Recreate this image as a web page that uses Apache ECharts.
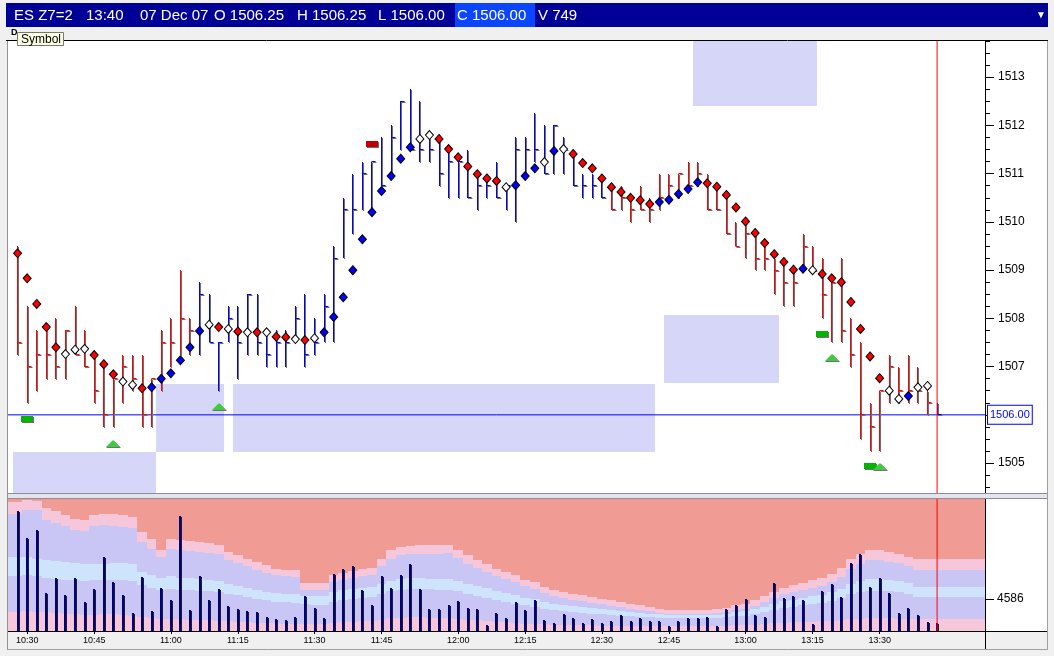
<!DOCTYPE html>
<html><head><meta charset="utf-8">
<script src="https://cdn.jsdelivr.net/npm/echarts@6/dist/echarts.min.js"></script>
<style>html,body{margin:0;padding:0;background:#f0f0f0;overflow:hidden}#c{width:1054px;height:656px}</style>
</head><body><div id="c"></div>
<script>
const high = [1509.5,1508.25,1507.75,1507.75,1508,1507.75,1508.25,1507.75,1507.25,1507,
1506.75,1507.25,1507.25,1507.25,1506.75,1507.75,1508,1509,1508,1508.75,
1508.5,1507.5,1508.25,1508.25,1508.5,1508.5,1507.75,1507.75,1507.75,1508.25,
1508.5,1508,1508.5,1509.5,1510.5,1511,1511.25,1511.25,1511.75,1512,
1512.5,1512.75,1512.5,1511.75,1511.75,1511.5,1511.25,1511.5,1511,1511,
1511.25,1510.75,1511.75,1511.75,1512.25,1512,1512,1511.75,1511.5,1511,
1511,1511,1510.75,1510.75,1510.5,1510.75,1510.5,1511,1511,1511,
1511.25,1511.25,1511,1510.75,1510.5,1510,1510,1509.75,1509.5,1509.25,
1509.25,1509,1509.75,1509.5,1509.25,1508.75,1509.25,1508,1507.5,1506.25,
1506.5,1507.25,1507,1507.25,1507,1506.5,1506.25];
const low = [1507.25,1506.25,1506.5,1506.75,1506.75,1506.75,1507.25,1507,1506.25,1505.75,
1505.75,1506.25,1506.5,1505.75,1505.75,1506.5,1507,1507.25,1507.25,1507.25,
1507.5,1506.5,1507.5,1506.75,1507.25,1507.25,1507,1507,1507,1507.5,
1507,1507.25,1507.5,1507.5,1509.25,1509.75,1510.25,1510.25,1510.75,1511,
1511.5,1511.5,1511.25,1511.25,1510.75,1510.5,1510.5,1510.5,1510.25,1510.5,
1510.5,1510.25,1510,1511,1511.25,1511,1511,1511,1510.75,1510.5,
1510.5,1510.5,1510.25,1510.25,1510,1510.25,1510,1510.25,1510.5,1510.5,
1510.75,1510.75,1510.25,1510.25,1509.75,1509.5,1509.25,1509,1509,1508.5,
1508.25,1508.25,1509,1509,1508,1507.5,1507.5,1507,1505.5,1505.25,
1505.25,1506.25,1506.25,1506.25,1506.25,1506,1506];
const close = [1507.5,1507,1507.25,1507.25,1507,1507.75,1507.25,1507,1506.5,1506,
1506.75,1507,1506.75,1506,1506.75,1507.5,1507.5,1508,1507.75,1508.5,
1507.5,1507.5,1508,1507.5,1508.5,1507.5,1507.25,1507.5,1507.5,1508,
1507.25,1507.5,1508.25,1509.25,1510.25,1510.25,1511,1511.25,1510.75,1511.75,
1512.5,1511.5,1511.5,1511.5,1511,1511.25,1511.25,1510.5,1510.75,1510.75,
1510.5,1510.75,1511.5,1511.5,1511.5,1511,1512,1511.5,1510.75,1510.75,
1510.75,1510.5,1510.25,1510.5,1510.25,1510.25,1510.25,1510.5,1510.75,1511,
1510.75,1511,1510.25,1510.25,1509.75,1509.5,1509.75,1509.25,1509.25,1509,
1508.75,1508.75,1509.5,1509,1508.5,1508.75,1507.75,1507.25,1506,1505.75,
1506.5,1507,1506.5,1506.5,1506.5,1506.25,1506];
const barTrend = ('rrrrrrrrrrrrrrrrrrr' + 'bbbbbbbbbbbbbbbbbbbbbbbbbbbbbbbbbbbbbbbbbbb' +
  'rrrrrrrrrrrrrrrrrrrrrrrrrrrrrrrrrr' + 'b').split('');
const dots = [1509.35,1508.83,1508.30,1507.82,1507.40,1507.26,1507.35,1507.37,1507.24,1507.05,
1506.84,1506.69,1506.62,1506.55,1506.57,1506.75,1506.86,1507.13,1507.40,1507.74,
1507.87,1507.82,1507.78,1507.73,1507.71,1507.71,1507.71,1507.62,1507.61,1507.57,
1507.55,1507.59,1507.71,1508.03,1508.44,1509.00,1509.64,1510.20,1510.64,1510.95,
1511.31,1511.55,1511.72,1511.80,1511.72,1511.51,1511.34,1511.15,1510.99,1510.90,
1510.85,1510.72,1510.76,1510.95,1511.11,1511.24,1511.47,1511.51,1511.41,1511.22,
1511.11,1510.90,1510.72,1510.62,1510.50,1510.45,1510.37,1510.41,1510.46,1510.58,
1510.68,1510.82,1510.80,1510.73,1510.56,1510.30,1510.01,1509.77,1509.56,1509.33,
1509.17,1509.01,1509.03,1509.00,1508.92,1508.83,1508.75,1508.34,1507.78,1507.21,
1506.76,1506.50,1506.33,1506.39,1506.57,1506.60,null];
const dotTrend = ('rrrrr'+'www'+'rrr'+'ww'+'r'+'bbbbbb'+'wrwrwrwrrwrw'+'bbbbbbbbbb'+'ww'+'rrrrrrr'+'w'+'bbb'+'w'+'b'+'w'+
  'rrrrrrrrr'+'bbbbb'+'rrrrrrrrrr'+'b'+'w'+'rrrrrrr'+'ww'+'b'+'ww'+'-').split('');
const volume = [18510,14140,15560,5570,7950,5140,7950,4140,6090,11170,
7200,5140,2290,8110,2600,6250,4350,17720,2760,8160,
4350,6090,3510,2920,2650,2450,1650,1340,1180,1700,
4980,3080,1490,8520,9270,9790,5980,3560,8160,6360,
8310,10060,6090,2920,2920,3560,4190,3080,2920,500,
2290,1540,4030,2760,4350,1180,800,2130,1490,800,
1340,800,1020,1970,1020,1490,1020,1110,230,1020,
1490,1490,1650,230,2920,3560,4560,1970,1650,7090,
4670,5030,4350,540,5820,6890,4830,10220,11740,6410,
7930,5460,2290,3080,1970,860,749];
// volume envelope levels, top to bottom
const volBand1 = [19950,20200,20100,18900,18500,17830,17300,17040,17830,18090,
17990,17830,17570,15190,14130,12380,14130,13870,13760,13600,
13500,13070,12010,11490,10960,10430,9900,9370,9210,9110,
7100,7100,7100,8310,8680,9000,9260,9480,10960,12280,
12810,12970,13070,13070,13070,13180,12380,11490,10690,10160,
9370,8840,8310,7630,7260,6460,6040,5670,5410,5140,
4880,4610,4350,4080,3820,3550,3290,3030,2760,2760,
2760,2760,2760,2920,3190,3550,3820,4350,4980,5670,
6360,6730,7100,7520,7940,8580,9530,10850,11640,12280,
12380,12010,11750,11220,10850,10850,10850];
const volBand2 = [18090,18620,18620,17040,16670,16090,15560,15350,16090,16300,
16190,15980,15770,13600,12540,11220,12540,12280,12170,12010,
11910,11750,10800,10270,9740,9210,8740,8310,8160,8050,
6040,6040,6040,7260,7630,7940,8160,8370,9740,10960,
11490,11640,11750,11750,11750,11800,11060,10160,9420,8900,
8160,7680,7200,6570,6200,5460,5040,4720,4450,4190,
3980,3710,3500,3240,3030,2820,2600,2390,2130,2130,
2130,2130,2130,2290,2500,2820,3030,3500,4030,4670,
5300,5620,5930,6300,6670,7260,8100,9270,10060,10690,
10800,10480,10220,9740,9110,9110,9110];
const volBand3 = [11220,11220,10960,10690,10590,10430,10270,10060,10060,10160,
10270,10270,10060,8840,8310,7940,8160,7940,7840,7730,
7630,7410,6990,6670,6360,6040,5720,5510,5410,5300,
5090,4980,4980,5670,5930,6150,6360,6460,6890,7410,
7730,7840,7840,7780,7730,7680,7410,6990,6570,6250,
5830,5510,5190,4770,4510,4030,3770,3560,3400,3240,
3080,2920,2760,2600,2450,2340,2230,2130,1970,1970,
1970,1970,1970,2070,2230,2450,2600,2920,3290,3710,
4190,4450,4720,4980,5250,5620,6200,6990,7410,7730,
7780,7630,7410,7100,6460,6460,6460];
const volBand4 = [8160,8310,8160,7940,7780,7630,7520,7410,7520,7630,
7630,7520,7410,6730,6360,6040,6200,6040,5930,5830,
5780,5670,5410,5140,4880,4610,4350,4140,4030,3930,
3710,3610,3610,4080,4350,4560,4770,4880,5300,5830,
6040,6150,6150,6090,6040,5990,5780,5410,5040,4720,
4350,4080,3820,3560,3340,2970,2760,2600,2450,2340,
2230,2130,2020,1920,1810,1700,1650,1600,1490,1490,
1490,1490,1490,1550,1650,1810,1920,2180,2450,2760,
3130,3340,3560,3770,3980,4240,4670,5300,5620,5830,
5880,5780,5620,5350,4880,4880,4880];
const volBand5 = [2500,2660,2500,2450,2340,2230,2130,2020,2020,2130,
2130,2020,1920,1700,1550,1390,1440,1390,1280,1230,
1180,1120,1020,960,860,810,750,700,650,650,
540,540,540,750,860,960,1070,1120,1280,1490,
1600,1650,1650,1600,1550,1490,1390,1280,1180,1070,
960,860,750,650,590,540,490,440,440,380,
380,330,330,330,280,280,280,280,220,220,
220,220,220,280,330,380,440,490,590,700,
810,860,910,960,1020,1070,1180,1330,1440,1490,
1490,1490,1440,1390,1440,1440,1440];
const timeLabels = ['10:30','10:45','11:00','11:15','11:30','11:45','12:00','12:15','12:30','12:45','13:00','13:15','13:30'];
const timeLabelBars = [1,8,16,23,31,38,46,53,61,68,76,83,90];
const priceLabels = [1505,1506,1507,1508,1509,1510,1511,1512,1513];
const volumeLabels = [4586];
const zoneFrom = [-0.5,14.5,22.5,67.5,70.5];
const zoneTo = [14.5,21.5,66.5,79.5,83.5];
const zoneTop = [1505.22,1506.64,1506.64,1508.07,1513.75];
const zoneBottom = [1504.38,1505.24,1505.24,1506.67,1512.40];
const buySignalBars = [1,84,89];
const buySignalPrices = [1505.92,1507.67,1504.93];
const arrowBars = [10,21,85,90];
const arrowPrices = [1505.40,1506.17,1507.17,1504.92];
const sellSignalBars = [37];
const sellSignalPrices = [1511.61];
const lastPrice = 1506.00;
const cursorBar = 96;
const header = [['ES Z7=2',14],['13:40',86],['07 Dec 07',140],['O 1506.25',214],['H 1506.25',297],['L 1506.00',378],['C 1506.00',457],['V 749',538]];

const PMIN = 1504.38, PMAX = 1513.75, VMIN = -520, VMAX = 20400;
const FONT = 'Liberation Sans, Arial, sans-serif';
const quarterTicks = [];
for (let p = 1504.5; p <= 1513.75; p += 0.25) quarterTicks.push(p);

const chart = echarts.init(document.getElementById('c'), null, {renderer: 'canvas'});

const barData = high.map((h, i) => [i, h, low[i], close[i]]);
const dotData = dots.map((d, i) => d == null ? null : {value: [i, d], itemStyle: {color: dotTrend[i] === 'r' ? '#ff0000' : dotTrend[i] === 'b' ? '#0000ff' : '#ffffff'}}).filter(Boolean);
const zoneData = zoneFrom.map((f, i) => [f, zoneTo[i], zoneTop[i], zoneBottom[i]]);
const volData = volume.map((v, i) => [i, v]);
const bandData = volBand1.map((v, i) => [i, v, volBand2[i], volBand3[i], volBand4[i], volBand5[i]]);
const BAND_COLORS = ['#f09b94', '#f6c6da', '#c9c6f5', '#cde4fc', '#c9c6f5', '#f6c6da'];

function crisp(v) { return Math.round(v) + 0.5; }

const option = {
  backgroundColor: '#f0f0f0',
  animation: false,
  textStyle: {fontFamily: FONT},
  grid: [
    {left: 8, top: 41, width: 977, height: 452, show: true, backgroundColor: '#ffffff', borderWidth: 0},
    {left: 8, top: 499, width: 977, height: 132, show: true, backgroundColor: '#f09b94', borderWidth: 0}
  ],
  xAxis: [
    {gridIndex: 0, type: 'value', min: -1, max: 101, show: false},
    {gridIndex: 1, type: 'value', min: -1, max: 101, splitLine: {show: false},
     axisLine: {show: true, onZero: false, lineStyle: {color: '#000', width: 1}},
     axisTick: {show: true, customValues: timeLabelBars, length: 3, lineStyle: {color: '#000'}},
     axisLabel: {customValues: timeLabelBars, margin: 5, fontSize: 9, color: '#000', fontFamily: FONT,
       formatter: v => { const k = timeLabelBars.indexOf(Math.round(v)); return k >= 0 ? timeLabels[k] : ''; }}}
  ],
  yAxis: [
    {gridIndex: 0, type: 'value', position: 'right', min: PMIN, max: PMAX, splitLine: {show: false},
     axisLine: {show: true, onZero: false, lineStyle: {color: '#000'}},
     axisTick: {show: true, customValues: priceLabels, length: 9, lineStyle: {color: '#000'}},
     axisLabel: {customValues: priceLabels, margin: 13, fontSize: 12, color: '#000', fontFamily: FONT, formatter: v => String(v)}},
    {gridIndex: 0, type: 'value', position: 'right', min: PMIN, max: PMAX, splitLine: {show: false},
     axisLine: {show: false, onZero: false},
     axisTick: {show: true, customValues: quarterTicks, length: 5, lineStyle: {color: '#000'}},
     axisLabel: {show: false}},
    {gridIndex: 1, type: 'value', position: 'right', min: VMIN, max: VMAX, splitLine: {show: false},
     axisLine: {show: true, onZero: false, lineStyle: {color: '#000'}},
     axisTick: {show: true, customValues: volumeLabels, length: 9, lineStyle: {color: '#000'}},
     axisLabel: {customValues: volumeLabels, margin: 12, fontSize: 12, color: '#000', fontFamily: FONT, formatter: v => String(v)}},
    {gridIndex: 0, type: 'value', position: 'right', min: PMIN, max: PMAX, splitLine: {show: false},
     axisLine: {show: false, onZero: false}, axisTick: {show: false},
     axisLabel: {customValues: [lastPrice], margin: 3, fontSize: 11, color: '#0000ff', fontFamily: FONT,
       backgroundColor: '#ffffff', borderColor: '#0000ff', borderWidth: 1, padding: [4, 2, 3, 2],
       formatter: v => v.toFixed(2)}}
  ],
  series: [
    {type: 'custom', name: 'zones', xAxisIndex: 0, yAxisIndex: 0, z: 1, clip: true, data: zoneData,
     renderItem: (p, api) => {
       const a = api.coord([api.value(0), api.value(2)]), b = api.coord([api.value(1), api.value(3)]);
       return {type: 'rect', shape: {x: Math.round(a[0]), y: Math.round(a[1]), width: Math.round(b[0]) - Math.round(a[0]), height: Math.round(b[1]) - Math.round(a[1])},
         style: {fill: '#d6d6f8'}};
     }},
    {type: 'line', name: 'last', xAxisIndex: 0, yAxisIndex: 0, z: 2, silent: true, symbol: 'none',
     data: [[-1, lastPrice], [101, lastPrice]], lineStyle: {color: '#0000ff', width: 1}, itemStyle: {color: '#0000ff'}},
    {type: 'custom', name: 'bars', xAxisIndex: 0, yAxisIndex: 0, z: 3, data: barData,
     renderItem: (p, api) => {
       const i = api.value(0);
       const ph = api.coord([i, api.value(1)]), pl = api.coord([i, api.value(2)]), pc = api.coord([i, api.value(3)]);
       const x = crisp(ph[0] - 0.5), yh = Math.round(ph[1]), yl = Math.round(pl[1]), yc = crisp(pc[1] - 0.5);
       const col = barTrend[p.dataIndex] === 'b' ? '#0000ff' : '#ff0000';
       const sh = '#707070';
       return {type: 'group', children: [
         {type: 'line', shape: {x1: x + 1, y1: yh + 1, x2: x + 1, y2: yl + 1}, style: {stroke: sh, lineWidth: 1}},
         {type: 'line', shape: {x1: x + 1, y1: yc + 1, x2: x + 5, y2: yc + 1}, style: {stroke: sh, lineWidth: 1}},
         {type: 'line', shape: {x1: x, y1: yh, x2: x, y2: yl}, style: {stroke: col, lineWidth: 1}},
         {type: 'line', shape: {x1: x, y1: yc, x2: x + 4, y2: yc}, style: {stroke: col, lineWidth: 1}}
       ]};
     }},
    {type: 'scatter', name: 'trend', xAxisIndex: 0, yAxisIndex: 0, z: 4, data: dotData,
     symbol: 'diamond', symbolSize: [8, 9], itemStyle: {borderColor: '#000', borderWidth: 1, opacity: 1}},
    {type: 'custom', name: 'buy', xAxisIndex: 0, yAxisIndex: 0, z: 5, data: buySignalBars.map((b, i) => [b, buySignalPrices[i]]),
     renderItem: (p, api) => {
       const c = api.coord([api.value(0), api.value(1)]); const x = Math.round(c[0]) - 6, y = Math.round(c[1]) - 3;
       return {type: 'group', children: [
         {type: 'rect', shape: {x: x + 1, y: y + 1, width: 12, height: 6}, style: {fill: '#707070'}},
         {type: 'rect', shape: {x: x, y: y, width: 12, height: 6}, style: {fill: '#00b400'}}]};
     }},
    {type: 'custom', name: 'arrows', xAxisIndex: 0, yAxisIndex: 0, z: 5, data: arrowBars.map((b, i) => [b, arrowPrices[i]]),
     renderItem: (p, api) => {
       const c = api.coord([api.value(0), api.value(1)]); const x = Math.round(c[0]), y = Math.round(c[1]);
       return {type: 'group', children: [
         {type: 'polygon', shape: {points: [[x - 7, y + 4], [x + 8, y + 4], [x + 1, y - 3]]}, style: {fill: '#707070'}},
         {type: 'polygon', shape: {points: [[x - 7, y + 3], [x + 7, y + 3], [x, y - 4]]}, style: {fill: '#3ccc3c'}}]};
     }},
    {type: 'custom', name: 'sell', xAxisIndex: 0, yAxisIndex: 0, z: 5, data: sellSignalBars.map((b, i) => [b, sellSignalPrices[i]]),
     renderItem: (p, api) => {
       const c = api.coord([api.value(0), api.value(1)]); const x = Math.round(c[0]) - 6, y = Math.round(c[1]) - 3;
       return {type: 'group', children: [
         {type: 'rect', shape: {x: x + 1, y: y + 1, width: 12, height: 6}, style: {fill: '#707070'}},
         {type: 'rect', shape: {x: x, y: y, width: 12, height: 6}, style: {fill: '#c00000'}}]};
     }},
    {type: 'line', name: 'cursor', xAxisIndex: 0, yAxisIndex: 0, z: 6, silent: true, symbol: 'none',
     data: [[cursorBar, PMIN], [cursorBar, PMAX]], lineStyle: {color: '#ff0000', width: 1}, itemStyle: {color: '#ff0000'}},
    {type: 'custom', name: 'bands', xAxisIndex: 1, yAxisIndex: 2, z: 1, data: bandData,
     renderItem: (p, api) => {
       const i = api.value(0);
       const x0 = Math.round(api.coord([i === 0 ? -1 : i - 0.5, 0])[0]);
       const x1 = Math.round(api.coord([i === volBand1.length - 1 ? 101 : i + 0.5, 0])[0]);
       const levels = [VMAX, api.value(1), api.value(2), api.value(3), api.value(4), api.value(5), VMIN];
       const ys = levels.map(v => Math.round(api.coord([i, v])[1]));
       const children = [];
       for (let k = 0; k < 6; k++) {
         children.push({type: 'rect', shape: {x: x0, y: ys[k], width: x1 - x0, height: ys[k + 1] - ys[k]}, style: {fill: BAND_COLORS[k]}});
       }
       return {type: 'group', children};
     }},
    {type: 'custom', name: 'volume', xAxisIndex: 1, yAxisIndex: 2, z: 3, data: volData,
     renderItem: (p, api) => {
       const c = api.coord([api.value(0), api.value(1)]); const b = api.coord([api.value(0), VMIN]);
       const x = Math.round(c[0]) - 1;
       return {type: 'group', children: [
         {type: 'rect', shape: {x: x, y: Math.round(c[1]), width: 2, height: Math.round(b[1]) - Math.round(c[1])}, style: {fill: '#000080'}},
         {type: 'rect', shape: {x: x + 2, y: Math.round(c[1]) + 1, width: 1, height: Math.round(b[1]) - Math.round(c[1]) - 1}, style: {fill: '#202020'}}]};
     }},
    {type: 'line', name: 'cursorVol', xAxisIndex: 1, yAxisIndex: 2, z: 6, silent: true, symbol: 'none',
     data: [[cursorBar, VMIN], [cursorBar, VMAX]], lineStyle: {color: '#ff0000', width: 1}, itemStyle: {color: '#ff0000'}}
  ],
  graphic: [
    {type: 'rect', z: -1, shape: {x: 985, y: 41, width: 62, height: 452}, style: {fill: '#ffffff'}},
    {type: 'rect', z: -1, shape: {x: 985, y: 499, width: 62, height: 132}, style: {fill: '#ffffff'}},
    {type: 'rect', z: 10, shape: {x: 6, y: 3, width: 1042, height: 24}, style: {fill: '#000096'}},
    {type: 'rect', z: 10, shape: {x: 455, y: 3, width: 80, height: 24}, style: {fill: '#0a46ff'}},
    ...header.map(([t, x]) => ({type: 'text', z: 11, x: x, y: 15.5, style: {text: t, fill: '#fff', font: '15px ' + FONT, textVerticalAlign: 'middle'}})),
    {type: 'text', z: 11, x: 1036, y: 15, style: {text: '▼', fill: '#fff', font: '10px ' + FONT, textVerticalAlign: 'middle'}},
    {type: 'text', z: 11, x: 11, y: 33, style: {text: 'D', fill: '#000', font: 'bold 9px ' + FONT, textVerticalAlign: 'middle'}},
    {type: 'line', z: 11, shape: {x1: 6, y1: 40.5, x2: 1048, y2: 40.5}, style: {stroke: '#000', lineWidth: 1}},
    {type: 'rect', z: 12, shape: {x: 17.5, y: 32.5, width: 46, height: 13}, style: {fill: '#ffffe1', stroke: '#767676', lineWidth: 1}},
    {type: 'text', z: 13, x: 21, y: 39.5, style: {text: 'Symbol', fill: '#000', font: '12px ' + FONT, textVerticalAlign: 'middle'}},
    {type: 'line', z: 11, shape: {x1: 7.5, y1: 41, x2: 7.5, y2: 649}, style: {stroke: '#909090', lineWidth: 1}},
    {type: 'rect', z: 11, shape: {x: 8, y: 493, width: 1040, height: 6}, style: {fill: '#e4e4ec'}},
    {type: 'line', z: 11, shape: {x1: 8, y1: 493.5, x2: 1048, y2: 493.5}, style: {stroke: '#8c8c9c', lineWidth: 1}},
    {type: 'line', z: 11, shape: {x1: 8, y1: 498.5, x2: 1048, y2: 498.5}, style: {stroke: '#8c8c9c', lineWidth: 1}},
    {type: 'line', z: 11, shape: {x1: 985, y1: 631.5, x2: 1048, y2: 631.5}, style: {stroke: '#000', lineWidth: 1}},
    {type: 'line', z: 11, shape: {x1: 985.5, y1: 631, x2: 985.5, y2: 649}, style: {stroke: '#000', lineWidth: 1}},
    {type: 'line', z: 11, shape: {x1: 1047.5, y1: 41, x2: 1047.5, y2: 649}, style: {stroke: '#a0a0a0', lineWidth: 1}},
    {type: 'line', z: 11, shape: {x1: 7, y1: 649.5, x2: 1048, y2: 649.5}, style: {stroke: '#a0a0a0', lineWidth: 1}}
  ]
};
chart.setOption(option);
</script></body></html>
